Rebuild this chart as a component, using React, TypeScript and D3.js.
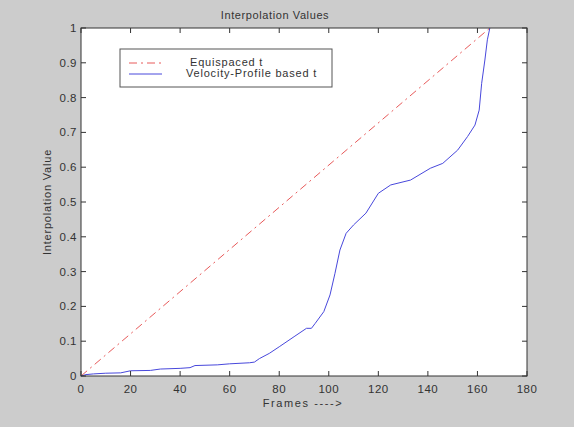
import React from "react";
import * as d3 from "d3";

const xTicks = [0, 20, 40, 60, 80, 100, 120, 140, 160, 180];
const yTicks = [0, 0.1, 0.2, 0.3, 0.4, 0.5, 0.6, 0.7, 0.8, 0.9, 1];

const equiFrames = [0, 165];
const equiValues = [0, 1];

const velFrames = [0, 2, 5, 10, 16, 20, 28, 32, 40, 44, 46, 55, 60, 68, 70, 72, 76, 80, 86, 91, 93, 94.5, 98, 100.5, 102.5, 104.5, 107, 110, 115, 120, 125, 133, 141, 146, 152, 156, 159, 160.7, 161.7, 163, 164, 165];
const velValues = [0, 0.004, 0.006, 0.008, 0.009, 0.015, 0.016, 0.02, 0.022, 0.024, 0.03, 0.032, 0.035, 0.038, 0.04, 0.05, 0.065, 0.084, 0.113, 0.137, 0.137, 0.151, 0.185, 0.233, 0.295, 0.362, 0.41, 0.434, 0.468, 0.525, 0.549, 0.563, 0.597, 0.611, 0.649, 0.688, 0.721, 0.764, 0.841, 0.908, 0.966, 1.0];

const legendLabels = ["Equispaced t", "Velocity-Profile based t"];

export default function App() {
  const W = 574, H = 427;
  const L = 81, R = 527, T = 28, B = 376;
  const x = d3.scaleLinear().domain([0, 180]).range([L, R]);
  const y = d3.scaleLinear().domain([0, 1]).range([B, T]);
  const line = d3.line<[number, number]>().x(d => x(d[0])).y(d => y(d[1]));
  const equi = line(equiFrames.map((f, i) => [f, equiValues[i]] as [number, number])) || "";
  const vel = line(velFrames.map((f, i) => [f, velValues[i]] as [number, number])) || "";
  const font = "Liberation Sans, Arial, sans-serif";
  const tk = 5;
  const red = "#e85a5a";
  const blue = "#4848dc";
  const txt = "#333";
  return (
    <svg width={W} height={H} style={{ position: "absolute", left: 0, top: 0 }} fontFamily={font}>
      <rect x={0} y={0} width={W} height={H} fill="#cccccc" />
      <rect x={L} y={T} width={R - L} height={B - T} fill="#ffffff" />
      <path d={equi} fill="none" stroke={red} strokeWidth={1} strokeDasharray="8,4,2,4" />
      <path d={vel} fill="none" stroke={blue} strokeWidth={1} />
      <rect x={L} y={T} width={R - L} height={B - T} fill="none" stroke="#333" strokeWidth={1} />
      {xTicks.map(t => (
        <g key={"x" + t}>
          <line x1={x(t)} x2={x(t)} y1={B} y2={B - tk} stroke="#333" />
          <line x1={x(t)} x2={x(t)} y1={T} y2={T + tk} stroke="#333" />
          <text x={x(t)} y={B + 17} fontSize={11.5} letterSpacing={0.5} textAnchor="middle" fill={txt}>{t}</text>
        </g>
      ))}
      {yTicks.map(t => (
        <g key={"y" + t}>
          <line x1={L} x2={L + tk} y1={y(t)} y2={y(t)} stroke="#333" />
          <line x1={R} x2={R - tk} y1={y(t)} y2={y(t)} stroke="#333" />
          <text x={L - 4} y={y(t) + 4} fontSize={11.5} letterSpacing={0.5} textAnchor="end" fill={txt}>{t}</text>
        </g>
      ))}
      <text x={275} y={19} fontSize={11} letterSpacing={0.6} textAnchor="middle" fill={txt}>Interpolation Values</text>
      <text x={303} y={407} fontSize={11} letterSpacing={1.6} textAnchor="middle" fill={txt}>Frames ----&gt;</text>
      <text transform={`translate(51,${(T + B) / 2}) rotate(-90)`} fontSize={11} letterSpacing={0.8} textAnchor="middle" fill={txt}>Interpolation Value</text>
      <g>
        <rect x={120} y={49} width={212} height={38} fill="#ffffff" stroke="#555" strokeWidth={1} />
        <line x1={129} x2={162} y1={63} y2={63} stroke={red} strokeWidth={1} strokeDasharray="8,4,2,4" />
        <line x1={129} x2={162} y1={74} y2={74} stroke={blue} strokeWidth={1} />
        <text x={190} y={66} fontSize={11} letterSpacing={0.8} fill={txt}>{legendLabels[0]}</text>
        <text x={186} y={77} fontSize={11} letterSpacing={0.8} fill={txt}>{legendLabels[1]}</text>
      </g>
    </svg>
  );
}
